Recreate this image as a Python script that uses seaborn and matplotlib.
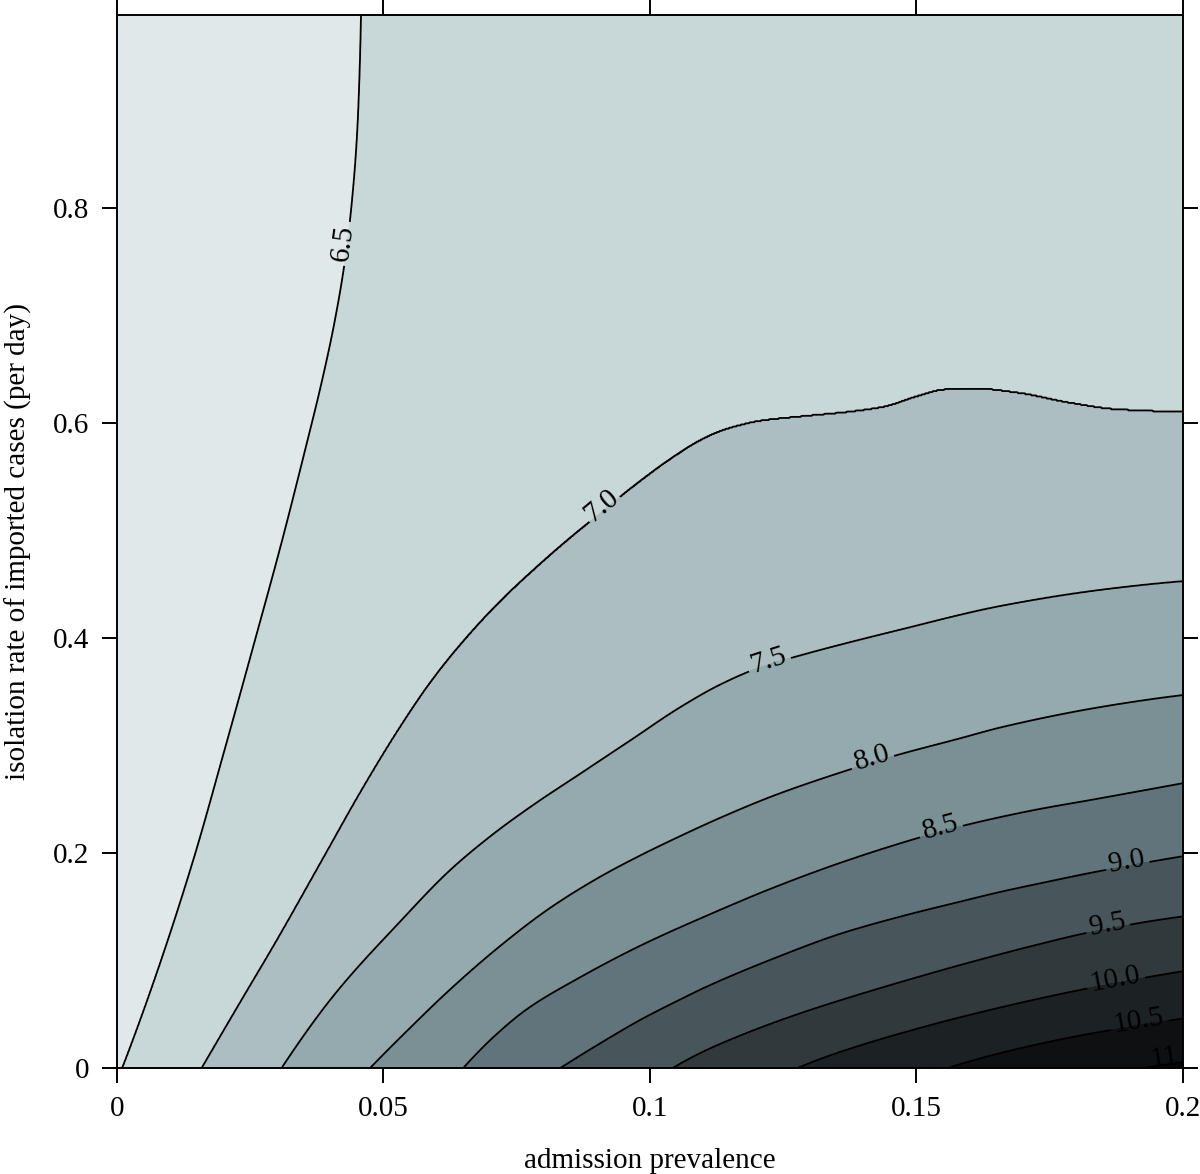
import numpy as np
import matplotlib
matplotlib.use("Agg")
import matplotlib.pyplot as plt
import seaborn as sns

# ---------------- data ----------------
levels = [6.5, 7.0, 7.5, 8.0, 8.5, 9.0, 9.5, 10.0, 10.5, 11.0]
level_labels = ["6.5", "7.0", "7.5", "8.0", "8.5", "9.0", "9.5", "10.0", "10.5", "11"]

# contour lines (admission prevalence, isolation rate) for each level
c65_x = [0.0010, 0.0080, 0.0146, 0.0202, 0.0259, 0.0310, 0.0353, 0.0385, 0.0409, 0.0428,
         0.0441, 0.0451, 0.0456, 0.0458]
c65_y = [0.000, 0.096, 0.198, 0.296, 0.398, 0.491, 0.575, 0.640, 0.696, 0.752,
         0.807, 0.873, 0.938, 0.980]

c70_x = [0.0159, 0.0231, 0.0300, 0.0390, 0.0456, 0.0531, 0.0593, 0.0657, 0.0719, 0.0781,
         0.0843, 0.0907, 0.0969, 0.1052, 0.1095, 0.1133, 0.1170, 0.1208, 0.1283, 0.1377,
         0.1439, 0.1503, 0.1552, 0.1608, 0.1691, 0.1785, 0.1879, 0.2000]
c70_y = [0.000, 0.061, 0.119, 0.198, 0.256, 0.317, 0.362, 0.401, 0.434, 0.463,
         0.490, 0.516, 0.541, 0.571, 0.584, 0.5925, 0.598, 0.602, 0.606, 0.6105,
         0.615, 0.625, 0.631, 0.632, 0.628, 0.619, 0.6125, 0.6105]

c75_x = [0.0309, 0.0406, 0.0531, 0.0625, 0.0707, 0.0782, 0.0870, 0.0964, 0.1058, 0.1133,
         0.1208, 0.1283, 0.1471, 0.1659, 0.1847, 0.2000]
c75_y = [0.000, 0.067, 0.136, 0.184, 0.218, 0.245, 0.274, 0.305, 0.336, 0.357,
         0.373, 0.384, 0.408, 0.430, 0.445, 0.453]

c80_x = [0.0475, 0.0531, 0.0625, 0.0719, 0.0813, 0.0907, 0.0983, 0.1058, 0.1133, 0.1233,
         0.1358, 0.1452, 0.1584, 0.1659, 0.1847, 0.2000]
c80_y = [0.000, 0.028, 0.073, 0.1135, 0.149, 0.178, 0.198, 0.216, 0.233, 0.2535,
         0.275, 0.2895, 0.307, 0.317, 0.336, 0.347]

c85_x = [0.0650, 0.0707, 0.0770, 0.0864, 0.0983, 0.1108, 0.1233, 0.1358, 0.1503, 0.1584,
         0.1721, 0.1834, 0.2000]
c85_y = [0.000, 0.029, 0.055, 0.083, 0.114, 0.142, 0.168, 0.191, 0.214, 0.225,
         0.240, 0.250, 0.265]

c90_x = [0.0832, 0.0907, 0.0983, 0.1058, 0.1108, 0.1233, 0.1358, 0.1471, 0.1584, 0.1659,
         0.1734, 0.1847, 0.2000]
c90_y = [0.000, 0.023, 0.045, 0.064, 0.076, 0.102, 0.125, 0.141, 0.155, 0.164,
         0.172, 0.1835, 0.197]

c95_x = [0.1043, 0.1095, 0.1189, 0.1283, 0.1377, 0.1471, 0.1584, 0.1721, 0.1823, 0.2000]
c95_y = [0.000, 0.014, 0.034, 0.051, 0.066, 0.080, 0.096, 0.114, 0.126, 0.141]

c100_x = [0.1277, 0.1340, 0.1409, 0.1471, 0.1546, 0.1597, 0.1721, 0.1847, 0.2000]
c100_y = [0.000, 0.012, 0.0232, 0.0323, 0.0425, 0.049, 0.0635, 0.0765, 0.090]

c105_x = [0.1559, 0.1659, 0.1785, 0.1885, 0.2000]
c105_y = [0.000, 0.014, 0.028, 0.037, 0.046]

c110_x = [0.1922, 0.2000]
c110_y = [0.000, 0.006]

x_ticks = [0, 0.05, 0.1, 0.15, 0.2]
x_tick_labels = ["0", "0.05", "0.1", "0.15", "0.2"]
y_ticks = [0, 0.2, 0.4, 0.6, 0.8]
y_tick_labels = ["0", "0.2", "0.4", "0.6", "0.8"]
x_range = (0.0, 0.2)
y_range = (0.0, 0.98)
x_title = "admission prevalence"
y_title = "isolation rate of imported cases (per day)"

# where the in-line level labels sit (on each line)
label_at = [(0.0431, 0.767), (0.0915, 0.520), (0.1225, 0.376), (0.1419, 0.284),
            (0.1548, 0.219), (0.1896, 0.190), (0.1860, 0.130), (0.1875, 0.080),
            (0.1919, 0.040), (0.1966, 0.0093)]

# ---------------- style ----------------
sns.set_theme(style="ticks")
plt.rcParams["font.family"] = ["Liberation Serif", "DejaVu Serif"]
plt.rcParams.update({
    "axes.edgecolor": "black", "axes.labelcolor": "black", "text.color": "black",
    "xtick.color": "black", "ytick.color": "black", "axes.linewidth": 1.4,
})

fill_colors = ["#E1E8EA", "#C8D8D9", "#ACBEC2", "#94AAAE", "#7B9095", "#61747B",
               "#48555A", "#31393D", "#1C2123", "#0E1011", "#060707"]

# ---------------- surface built from the traced contour lines ----------------
lines = [(c65_x, c65_y), (c70_x, c70_y), (c75_x, c75_y), (c80_x, c80_y), (c85_x, c85_y),
         (c90_x, c90_y), (c95_x, c95_y), (c100_x, c100_y), (c105_x, c105_y), (c110_x, c110_y)]

xg = np.linspace(x_range[0], x_range[1], 2001)
yg = np.linspace(y_range[0], y_range[1], 981)


def _end_slope(h0, h1, d0, d1):
    s = ((2 * h0 + h1) * d0 - h0 * d1) / (h0 + h1)
    if np.sign(s) != np.sign(d0):
        s = 0.0
    elif np.sign(d0) != np.sign(d1) and abs(s) > abs(3 * d0):
        s = 3 * d0
    return s


def trace(xq, xs, ys):
    """Shape-preserving (PCHIP) curve through the traced points, linear outside."""
    xs = np.asarray(xs, float)
    ys = np.asarray(ys, float)
    n = len(xs)
    h = np.diff(xs)
    dl = np.diff(ys) / h
    d = np.zeros(n)
    if n == 2:
        d[:] = dl[0]
    else:
        for k in range(1, n - 1):
            if dl[k - 1] * dl[k] > 0:
                w1 = 2 * h[k] + h[k - 1]
                w2 = h[k] + 2 * h[k - 1]
                d[k] = (w1 + w2) / (w1 / dl[k - 1] + w2 / dl[k])
        d[0] = _end_slope(h[0], h[1], dl[0], dl[1])
        d[-1] = _end_slope(h[-1], h[-2], dl[-1], dl[-2])
    idx = np.clip(np.searchsorted(xs, xq) - 1, 0, n - 2)
    t = (xq - xs[idx]) / h[idx]
    h00 = 2 * t**3 - 3 * t**2 + 1
    h10 = t**3 - 2 * t**2 + t
    h01 = -2 * t**3 + 3 * t**2
    h11 = t**3 - t**2
    out = h00 * ys[idx] + h10 * h[idx] * d[idx] + h01 * ys[idx + 1] + h11 * h[idx] * d[idx + 1]
    lo = xq < xs[0]
    out[lo] = ys[0] + d[0] * (xq[lo] - xs[0])
    hi = xq > xs[-1]
    out[hi] = ys[-1] + d[-1] * (xq[hi] - xs[-1])
    return out


Ylines = np.array([trace(xg, xs, ys) for xs, ys in lines])
for k in range(1, len(levels)):
    Ylines[k] = np.minimum(Ylines[k], Ylines[k - 1] - 1e-4)

zs = np.concatenate([[levels[-1] + 0.5], levels[::-1], [levels[0] - 0.5]])
Z = np.empty((len(yg), len(xg)))
for j in range(len(xg)):
    col = Ylines[::-1, j]
    ys = np.concatenate([[col[0] - 1.0], col, [col[-1] + 1.0]])
    Z[:, j] = np.interp(yg, ys, zs)

# ---------------- figure ----------------
fig = plt.figure(figsize=(12, 11.74), dpi=100)
ax = fig.add_axes([0.0975, 0.0903, 0.8881, 0.8969])

ax.set_xlim(*x_range)
ax.set_ylim(*y_range)

bounds = [levels[0] - 1] + levels + [levels[-1] + 1]
ax.contourf(xg, yg, Z, levels=bounds, colors=fill_colors)
cs = ax.contour(xg, yg, Z, levels=levels, colors="black", linewidths=1.3)
fmt = dict(zip(levels, level_labels))
texts = ax.clabel(cs, levels=levels[:-1], manual=label_at[:-1], fmt=fmt, inline=True,
                  inline_spacing=4, fontsize=21, colors="black")

# lift each label a little off its line, as in the original
for t in texts:
    a = np.deg2rad(t.get_rotation())
    px, py = ax.transData.transform(t.get_position())
    px -= 4 * np.sin(a)
    py += 4 * np.cos(a)
    t.set_position(ax.transData.inverted().transform((px, py)))

ax.text(label_at[-1][0], label_at[-1][1], level_labels[-1], rotation=9,
        ha="center", va="center", fontsize=21, color="black", clip_on=True)

ax.set_xticks(x_ticks)
ax.set_xticklabels(x_tick_labels)
ax.set_yticks(y_ticks)
ax.set_yticklabels(y_tick_labels)
ax.tick_params(axis="both", which="major", direction="out", length=11, width=1.4,
               labelsize=21, pad=9, top=True, right=True, labeltop=False, labelright=False)
ax.set_xlabel(x_title, fontsize=21, labelpad=19)
ax.set_ylabel(y_title, fontsize=21, labelpad=15)
for s in ax.spines.values():
    s.set_visible(True)
    s.set_linewidth(1.4)
    s.set_zorder(5)

fig.savefig("out.png", dpi=100)
